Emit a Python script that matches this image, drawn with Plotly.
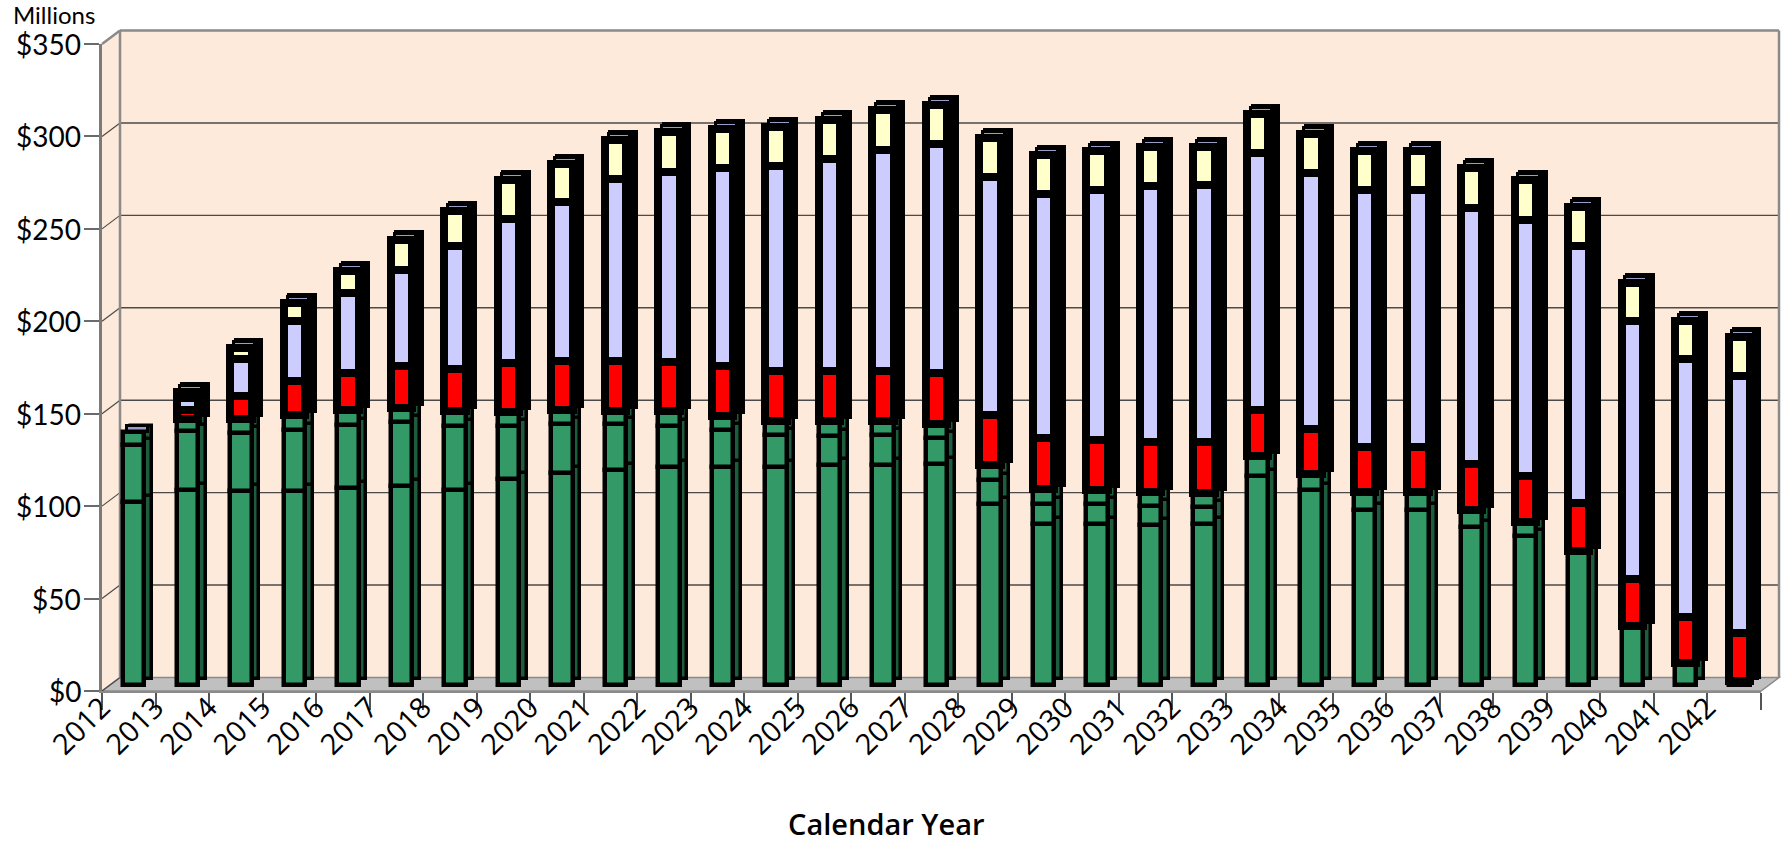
import plotly.graph_objects as go

# ---- data (millions of dollars) ----
years = [str(y) for y in range(2012, 2043)]

green_base = [99.0, 105.6, 105.0, 105.0, 106.8, 107.6, 105.6, 111.2, 114.5, 116.1,
              117.8, 117.8, 117.8, 118.8, 118.8, 119.3, 97.7, 87.1, 87.1, 86.6,
              87.2, 113.0, 105.4, 94.9, 94.9, 85.5, 80.6, 72.3, 32.0, 12.0, 2.4]
green_mid = [31.0, 31.6, 31.3, 33.1, 34.0, 34.5, 34.5, 28.9, 26.6, 25.0,
             22.1, 20.0, 17.3, 15.9, 16.3, 14.5, 13.1, 11.0, 11.0, 10.0,
             9.2, 0, 0, 0, 0, 0, 0, 0, 0, 0, 0]
green_top = [6.7, 6.8, 7.5, 7.9, 7.9, 7.5, 7.9, 7.8, 7.4, 7.1,
             8.1, 7.9, 7.7, 7.9, 7.7, 7.4, 8.1, 7.9, 7.3, 7.7,
             7.7, 11.1, 8.5, 9.7, 9.7, 9.4, 7.5, 0, 0, 0, 0]
red_part = [0, 5.0, 12.8, 18.7, 20.3, 22.8, 23.1, 26.2, 27.0, 27.3,
            26.9, 27.1, 27.2, 27.0, 27.3, 27.4, 27.1, 27.4, 26.9, 27.1,
            27.4, 24.7, 24.6, 24.3, 24.3, 24.7, 24.9, 25.9, 25.6, 25.0, 25.6]
lavender_part = [0, 6.5, 19.5, 32.3, 42.8, 52.3, 66.6, 78.1, 85.6, 98.4,
                 102.6, 106.7, 110.9, 115.1, 119.4, 123.8, 128.7, 132.0, 135.4, 138.7,
                 138.8, 138.8, 138.6, 138.7, 138.7, 138.7, 138.8, 139.1, 139.2, 139.3, 139.3]
yellow_part = [0, 3.2, 6.0, 9.6, 12.0, 16.1, 18.7, 21.1, 20.9, 20.9,
               21.5, 21.4, 21.1, 21.2, 21.3, 21.1, 21.2, 21.4, 21.0, 21.1,
               20.9, 21.1, 21.2, 21.4, 21.4, 21.3, 21.2, 21.2, 20.8, 20.7, 21.0]

y_ticks = [0, 50, 100, 150, 200, 250, 300, 350]
y_tick_text = ["$0", "$50", "$100", "$150", "$200", "$250", "$300", "$350"]

series = [
    (green_base, "#339966", "#1d5c3c", 4.5, 3.5),
    (green_mid, "#339966", "#1d5c3c", 4.5, 3.5),
    (green_top, "#339966", "#1d5c3c", 4.5, 3.5),
    (red_part, "#ff0000", "#000000", 8, 8),
    (lavender_part, "#ccccff", "#000000", 8, 8),
    (yellow_part, "#ffffcc", "#000000", 8, 8),
]

# ---- page geometry ----
W, H = 1781, 843
ML, MR, MT, MB = 102, 20, 44, 152
PW, PH = W - ML - MR, H - MT - MB
Y_MAX = 350
PX_PER_UNIT = PH / Y_MAX
WALL_DX, WALL_DY = 18, 13.5          # depth of the box (back wall offset, px)
BAR_LIFT = 6 / PX_PER_UNIT            # bars stand a little behind the front edge
BAR_W = 0.40                          # bar width (category units)
BAR_OFF = -0.106                      # bar front-face offset from category centre
SIDE_DX = 7.75 / 53.5                 # bar depth, horizontal (category units)
SIDE_DY = 6 / PX_PER_UNIT             # bar depth, vertical (value units)
FONT = "'Open Sans', Lato, sans-serif"
LABEL_FONT = "Lato, 'Open Sans', sans-serif"


def fx(xpix):
    return (xpix - ML) / PW


def fy(ypix):
    return (H - MB - ypix) / PH


def front_y(v):
    return H - MB - v * PX_PER_UNIT


def back_y(v):
    return front_y(v) - WALL_DY


x0f, x1f = ML, W - MR
x0b, x1b = x0f + WALL_DX, x1f + WALL_DX

fig = go.Figure()

# stacked bases
bases = []
run = [0.0] * len(years)
for vals, *_ in series:
    bases.append(run[:])
    run = [r + v for r, v in zip(run, vals)]
totals = run


def nz(vals):
    return [v if v > 0 else None for v in vals]


# side faces (drawn first, shifted back and up)
for (vals, col, dcol, lw, dlw), b in zip(series, bases):
    fig.add_trace(go.Bar(
        x=years, y=nz(vals), base=[bb + SIDE_DY for bb in b], yaxis="y2",
        width=BAR_W, offset=BAR_OFF + SIDE_DX,
        marker=dict(color=dcol, line=dict(color="#000000", width=dlw)),
        hoverinfo="skip", showlegend=False))

# top faces
fig.add_trace(go.Bar(
    x=years, y=[SIDE_DY] * len(years), base=totals, yaxis="y2",
    width=BAR_W, offset=BAR_OFF + SIDE_DX / 2,
    marker=dict(color="#9c9cc8", line=dict(color="#000000", width=3)),
    hoverinfo="skip", showlegend=False))

# front faces
for (vals, col, dcol, lw, dlw), b in zip(series, bases):
    fig.add_trace(go.Bar(
        x=years, y=nz(vals), base=b, yaxis="y2",
        width=BAR_W, offset=BAR_OFF,
        marker=dict(color=col, line=dict(color="#000000", width=lw)),
        showlegend=False))

shapes = []
# walls
wall = (f"M {fx(x0f)} {fy(front_y(0))} L {fx(x0f)} {fy(front_y(Y_MAX))} "
        f"L {fx(x0b)} {fy(back_y(Y_MAX))} L {fx(x1b)} {fy(back_y(Y_MAX))} "
        f"L {fx(x1b)} {fy(back_y(0))} L {fx(x1f)} {fy(front_y(0))} Z")
shapes.append(dict(type="path", xref="paper", yref="paper", path=wall,
                   fillcolor="#fdeadb", line=dict(width=0), layer="below"))
# floor
floor = (f"M {fx(x0f)} {fy(front_y(0))} L {fx(x1f)} {fy(front_y(0))} "
         f"L {fx(x1b)} {fy(back_y(0))} L {fx(x0b)} {fy(back_y(0))} Z")
shapes.append(dict(type="path", xref="paper", yref="paper", path=floor,
                   fillcolor="#c0c0c0", line=dict(color="#8a8a8a", width=1.5),
                   layer="below"))
# gridlines on the back wall and the left wall
for v in y_ticks:
    if 0 < v < Y_MAX:
        shapes.append(dict(type="line", xref="paper", yref="paper",
                           x0=fx(x0b), x1=fx(x1b), y0=fy(back_y(v)), y1=fy(back_y(v)),
                           line=dict(color="#4a4a4a", width=1.4), layer="below"))
    if v < Y_MAX:
        shapes.append(dict(type="line", xref="paper", yref="paper",
                           x0=fx(x0f), x1=fx(x0b), y0=fy(front_y(v)), y1=fy(back_y(v)),
                           line=dict(color="#4a4a4a", width=1.2), layer="below"))
# wall borders
grey = dict(color="#8a8a8a", width=2.5)
shapes += [
    dict(type="line", xref="paper", yref="paper", x0=fx(x0f), x1=fx(x0b),
         y0=fy(front_y(Y_MAX)), y1=fy(back_y(Y_MAX)), line=grey, layer="below"),
    dict(type="line", xref="paper", yref="paper", x0=fx(x0b), x1=fx(x1b),
         y0=fy(back_y(Y_MAX)), y1=fy(back_y(Y_MAX)), line=grey, layer="below"),
    dict(type="line", xref="paper", yref="paper", x0=fx(x0b), x1=fx(x0b),
         y0=fy(back_y(Y_MAX)), y1=fy(back_y(0)), line=grey, layer="below"),
    dict(type="line", xref="paper", yref="paper", x0=fx(x1b), x1=fx(x1b),
         y0=fy(back_y(Y_MAX)), y1=fy(back_y(0)), line=grey, layer="below"),
]

# value labels of the front (left) axis
annotations = [
    dict(text=t, xref="paper", yref="y", x=fx(83), y=v,
         xanchor="right", yanchor="middle", showarrow=False,
         font=dict(size=28, family=LABEL_FONT))
    for v, t in zip(y_ticks, y_tick_text)
]
annotations += [
    dict(text="Millions", xref="paper", yref="paper", x=fx(54), y=fy(14.5),
         xanchor="center", yanchor="middle", showarrow=False,
         font=dict(size=24, family=LABEL_FONT)),
    dict(text="Calendar Year", xref="paper", yref="paper",
         x=fx(886), y=fy(823), xanchor="center", yanchor="middle",
         showarrow=False, font=dict(size=29, weight=600)),
]

fig.update_layout(
    width=W, height=H, autosize=False,
    margin=dict(l=ML, r=MR, t=MT, b=MB, pad=0),
    paper_bgcolor="#ffffff", plot_bgcolor="rgba(0,0,0,0)",
    barmode="overlay", bargap=0,
    font=dict(family=FONT, color="#000000"),
    xaxis=dict(type="category", range=[-0.5, len(years) - 0.5],
               showgrid=False, zeroline=False,
               showline=True, linecolor="#8a8a8a", linewidth=2,
               ticks="outside", tickson="boundaries", ticklen=17,
               tickcolor="#555555", tickwidth=1.5,
               tickangle=-45, tickfont=dict(size=29),
               ticklabelshift=-27, ticklabelstandoff=-14),
    yaxis=dict(range=[0, Y_MAX], tickmode="array", tickvals=y_ticks,
               showticklabels=False,
               showgrid=False, zeroline=False,
               showline=True, linecolor="#7a7a7a", linewidth=2.5,
               ticks="outside", ticklen=15, tickcolor="#6a6a6a", tickwidth=2),
    yaxis2=dict(range=[-BAR_LIFT, Y_MAX - BAR_LIFT], overlaying="y",
                showticklabels=False, showgrid=False, zeroline=False,
                showline=False, ticks=""),
    shapes=shapes,
    annotations=annotations,
)

fig.write_html("out.html")
